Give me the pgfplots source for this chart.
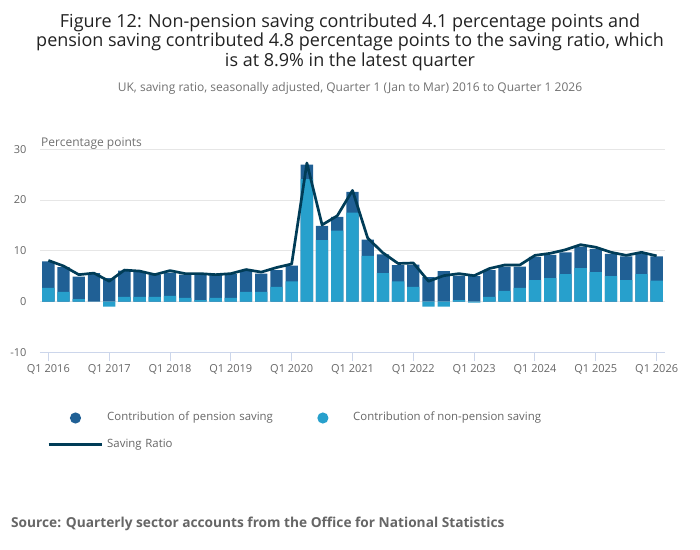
\documentclass[border=0pt]{standalone}
\usepackage{pgfplots}
\pgfplotsset{compat=1.18}
\usepackage{pgfplotstable}
\usepackage{fontspec}
\setmainfont{Open Sans}
\definecolor{pension}{HTML}{206095}
\definecolor{nonpension}{HTML}{27A0CC}
\definecolor{ratio}{HTML}{003C57}
\definecolor{gridc}{HTML}{E6E6E6}
\definecolor{axisc}{HTML}{CCD6EB}
\definecolor{lab}{HTML}{666666}
\definecolor{titlec}{HTML}{222222}
\definecolor{subc}{HTML}{707070}

% q: quarter index (0 = Q1 2016); nonpension: contribution of non-pension saving;
% stacktop: top of the stacked pension bar; ratio: saving ratio
\pgfplotstableread{
q nonpension stacktop ratio
0 2.7 7.9 8.1
1 1.9 6.8 7.0
2 0.5 4.9 5.3
3 0.0 5.6 5.6
4 -1.0 4.6 4.0
5 0.9 6.1 6.2
6 0.9 5.8 6.0
7 0.9 5.3 5.3
8 1.1 5.7 6.1
9 0.7 5.3 5.5
10 0.3 5.2 5.5
11 0.7 5.2 5.3
12 0.7 5.4 5.5
13 1.9 6.1 6.3
14 1.9 5.5 5.8
15 2.9 6.2 6.7
16 4.0 7.1 7.4
17 24.1 27.0 27.3
18 12.1 14.9 15.1
19 14.0 16.7 16.9
20 17.5 21.6 21.9
21 9.0 12.2 12.5
22 5.6 9.3 9.6
23 4.0 7.2 7.5
24 2.9 7.3 7.6
25 -1.0 4.8 4.0
26 -1.0 6.0 5.1
27 0.3 5.1 5.5
28 -0.2 5.0 5.1
29 0.9 6.2 6.5
30 2.1 6.9 7.2
31 2.7 6.9 7.2
32 4.2 8.8 9.1
33 4.6 9.2 9.5
34 5.4 9.7 10.2
35 6.6 10.8 11.2
36 5.8 10.4 10.7
37 5.0 9.4 9.7
38 4.2 8.9 9.1
39 5.4 9.4 9.7
40 4.1 8.9 9.0
}\data

\begin{document}
\begin{tikzpicture}
\path[use as bounding box] (0pt,0pt) rectangle (700pt,549pt);
\node[anchor=base, font=\fontsize{18}{21}\selectfont, text=titlec, inner sep=0pt] at (350pt,521.7pt) {Figure 12: Non-pension saving contributed 4.1 percentage points and};
\node[anchor=base, font=\fontsize{18}{21}\selectfont, text=titlec, inner sep=0pt] at (350pt,502pt) {pension saving contributed 4.8 percentage points to the saving ratio, which};
\node[anchor=base, font=\fontsize{18}{21}\selectfont, text=titlec, inner sep=0pt] at (350pt,482.3pt) {is at 8.9\% in the latest quarter};
\node[anchor=base, font=\fontsize{12}{14}\selectfont, text=subc, inner sep=0pt] at (350pt,457.5pt) {UK, saving ratio, seasonally adjusted, Quarter 1 (Jan to Mar) 2016 to Quarter 1 2026};
\node[anchor=base west, font=\fontsize{12}{14}\selectfont, text=subc, inner sep=0pt] at (41pt,402.3pt) {Percentage points};
\node[anchor=base west, font=\bfseries\fontsize{13.7}{16}\selectfont, text=lab, inner sep=0pt] at (11pt,21.7pt) {Source: Quarterly sector accounts from the Office for National Statistics};

\begin{axis}[
  at={(40pt,196.7pt)}, anchor=south west,
  scale only axis, width=625pt, height=203pt,
  xmin=-0.55, xmax=40.55, ymin=-10, ymax=30,
  axis x line*=bottom, axis y line*=left,
  x axis line style={draw=axisc, line width=1pt, -},
  y axis line style={draw=none},
  xtick={0,4,...,40},
  xticklabels={Q1 2016,Q1 2017,Q1 2018,Q1 2019,Q1 2020,Q1 2021,Q1 2022,Q1 2023,Q1 2024,Q1 2025,Q1 2026},
  ytick={-10,0,10,20,30}, yticklabels={-10,0,10,20,30},
  ymajorgrids, grid style={draw=gridc, line width=1pt},
  tick align=outside, major tick length=9pt,
  x tick style={draw=axisc, line width=1pt},
  y tick style={draw=none},
  xticklabel style={font=\fontsize{11}{13}\selectfont, text=lab},
  yticklabel style={font=\fontsize{11}{13}\selectfont, text=lab, xshift=-1pt},
  ybar, bar width=12.3pt,
  legend columns=2,
  legend cell align=left,
  legend style={at={(0.01168,-0.2953)}, anchor=north west, draw=none, fill=none,
    inner sep=0pt, outer sep=0pt, font=\fontsize{11.4}{13}\selectfont, text=lab, row sep=15.2pt,
    nodes={inner xsep=0pt, inner ysep=0pt, text height=8.5pt, text depth=3pt},
    /tikz/every odd column/.append style={column sep=3.5pt},
    /tikz/every even column/.append style={column sep=18.85pt}},
]
\addplot[fill=pension, draw=none, bar shift=0pt,
  legend image code/.code={\path[draw=none, fill=none] (0pt,-5.5pt) rectangle (53.7pt,5.5pt); \fill[pension, draw=none] (26.85pt,0pt) circle (5.6pt);}]
  table[x=q, y=stacktop] {\data};
\addlegendentry[text width=170pt]{Contribution of pension saving}
\addplot[fill=nonpension, draw=none, bar shift=0pt,
  legend image code/.code={\path[draw=none, fill=none] (0pt,-5.5pt) rectangle (53.7pt,5.5pt); \fill[nonpension, draw=none] (26.85pt,0pt) circle (5.6pt);}]
  table[x=q, y=nonpension] {\data};
\addlegendentry{Contribution of non-pension saving}
\addplot[sharp plot, draw=ratio, line width=2.7pt, line join=round, mark=none,
  legend image code/.code={\draw[ratio, line width=2.7pt] (0pt,0pt) -- (53.7pt,0pt);}]
  table[x=q, y=ratio] {\data};
\addlegendentry[text width=170pt]{Saving Ratio}
\end{axis}
\end{tikzpicture}
\end{document}
